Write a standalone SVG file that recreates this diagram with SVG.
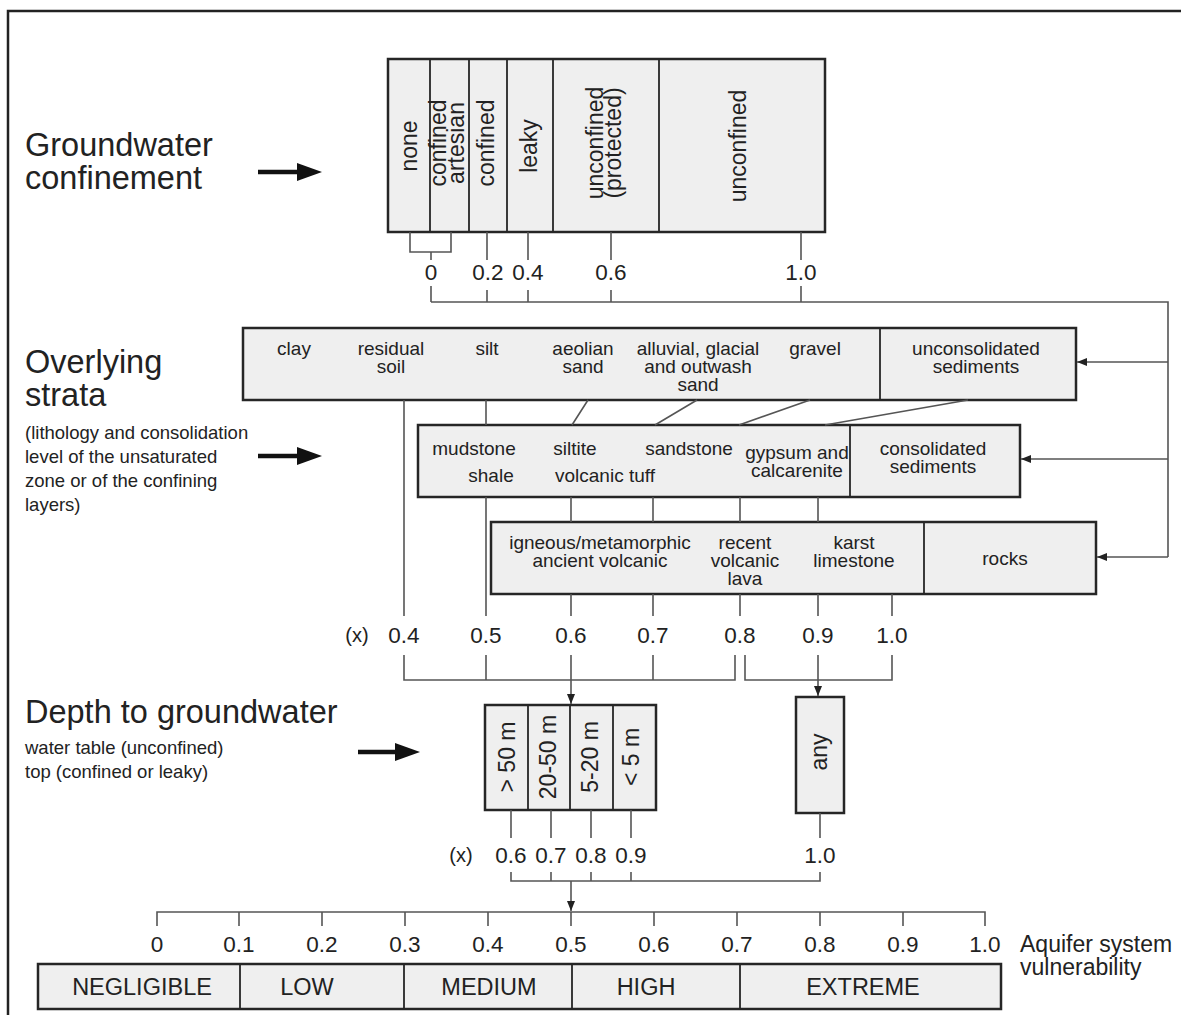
<svg xmlns="http://www.w3.org/2000/svg" width="1181" height="1015" viewBox="0 0 1181 1015">
<defs>
<marker id="ah" viewBox="0 0 10 8" refX="10" refY="4" markerWidth="10" markerHeight="8" markerUnits="userSpaceOnUse" orient="auto">
<path d="M0,0 L10,4 L0,8 Z" fill="#222"/>
</marker>
</defs>
<style>
text{font-family:"Liberation Sans",Arial,sans-serif;fill:#222}
.title{font-size:32.5px}
.sub{font-size:18.5px}
.bx{font-size:19px;text-anchor:middle;dominant-baseline:central}
.rt{font-size:23px;text-anchor:middle;dominant-baseline:middle}
.num{font-size:22.5px;text-anchor:middle;dominant-baseline:central}
.cat{font-size:23.5px;text-anchor:middle;dominant-baseline:central}
.box{fill:#efefef;stroke:#262626;stroke-width:2.5}
.div{stroke:#262626;stroke-width:1.8;fill:none}
.con{stroke:#555;stroke-width:1.6;fill:none}
.big{stroke:#111;stroke-width:4.5}
</style>
<rect width="1181" height="1015" fill="#fff"/>
<path d="M8,1015 V11 H1181" fill="none" stroke="#222" stroke-width="2.5"/>

<g id="labels-left">
<text class="title" x="25" y="156">Groundwater</text>
<text class="title" x="25" y="189">confinement</text>
<text class="title" x="25" y="373">Overlying</text>
<text class="title" x="25" y="406">strata</text>
<text class="sub" x="25" y="439">(lithology and consolidation</text>
<text class="sub" x="25" y="463">level of the unsaturated</text>
<text class="sub" x="25" y="487">zone or of the confining</text>
<text class="sub" x="25" y="511">layers)</text>
<text class="title" x="25" y="723">Depth to groundwater</text>
<text class="sub" x="25" y="754">water table (unconfined)</text>
<text class="sub" x="25" y="778">top (confined or leaky)</text>
</g>

<g id="big-arrows">
<line class="big" x1="258" y1="172" x2="300" y2="172"/>
<polygon points="297,163 322,172 297,181" fill="#111"/>
<line class="big" x1="258" y1="456" x2="300" y2="456"/>
<polygon points="297,447 322,456 297,465" fill="#111"/>
<line class="big" x1="358" y1="752" x2="398" y2="752"/>
<polygon points="395,743 420,752 395,761" fill="#111"/>
</g>

<g id="confinement">
<rect class="box" x="388" y="59" width="437" height="173"/>
<path class="div" d="M430,59V232M469,59V232M507,59V232M553,59V232M659,59V232"/>
<text class="rt" transform="translate(411,146) rotate(-90)">none</text>
<text class="rt" transform="translate(440,143) rotate(-90)">confined</text>
<text class="rt" transform="translate(458,143) rotate(-90)">artesian</text>
<text class="rt" transform="translate(488,143) rotate(-90)">confined</text>
<text class="rt" transform="translate(531,146) rotate(-90)">leaky</text>
<text class="rt" transform="translate(597,143) rotate(-90)">unconfined</text>
<text class="rt" transform="translate(615,143) rotate(-90)">(protected)</text>
<text class="rt" transform="translate(740,146) rotate(-90)">unconfined</text>
</g>

<g id="unconsolidated">
<rect class="box" x="243" y="328" width="833" height="72"/>
<path class="div" d="M880,328V400"/>
<text class="bx" x="294" y="348">clay</text>
<text class="bx" x="391" y="348">residual</text>
<text class="bx" x="391" y="366">soil</text>
<text class="bx" x="487" y="348">silt</text>
<text class="bx" x="583" y="348">aeolian</text>
<text class="bx" x="583" y="366">sand</text>
<text class="bx" x="698" y="348">alluvial, glacial</text>
<text class="bx" x="698" y="366">and outwash</text>
<text class="bx" x="698" y="384">sand</text>
<text class="bx" x="815" y="348">gravel</text>
<text class="bx" x="976" y="348">unconsolidated</text>
<text class="bx" x="976" y="366">sediments</text>
</g>

<g id="consolidated">
<rect class="box" x="418" y="425" width="602" height="72"/>
<path class="div" d="M850,425V497"/>
<text class="bx" x="474" y="448">mudstone</text>
<text class="bx" x="491" y="475">shale</text>
<text class="bx" x="575" y="448">siltite</text>
<text class="bx" x="605" y="475">volcanic tuff</text>
<text class="bx" x="689" y="448">sandstone</text>
<text class="bx" x="797" y="452">gypsum and</text>
<text class="bx" x="797" y="470">calcarenite</text>
<text class="bx" x="933" y="448">consolidated</text>
<text class="bx" x="933" y="466">sediments</text>
</g>

<g id="rocks">
<rect class="box" x="491" y="522" width="605" height="72"/>
<path class="div" d="M924,522V594"/>
<text class="bx" x="600" y="542">igneous/metamorphic</text>
<text class="bx" x="600" y="560">ancient volcanic</text>
<text class="bx" x="745" y="542">recent</text>
<text class="bx" x="745" y="560">volcanic</text>
<text class="bx" x="745" y="578">lava</text>
<text class="bx" x="854" y="542">karst</text>
<text class="bx" x="854" y="560">limestone</text>
<text class="bx" x="1005" y="558">rocks</text>
</g>

<g id="depth">
<rect class="box" x="485" y="705" width="171" height="105"/>
<path class="div" d="M528,705V810M570,705V810M613,705V810"/>
<text class="rt" transform="translate(509,757) rotate(-90)">&gt; 50 m</text>
<text class="rt" transform="translate(550,757) rotate(-90)">20-50 m</text>
<text class="rt" transform="translate(592,757) rotate(-90)">5-20 m</text>
<text class="rt" transform="translate(633,757) rotate(-90)">&lt; 5 m</text>
</g>

<g id="any">
<rect class="box" x="796" y="697" width="48" height="116"/>
<text class="rt" transform="translate(821,752) rotate(-90)">any</text>
</g>

<g id="vulnerability">
<rect class="box" x="38" y="964" width="963" height="45"/>
<path class="div" d="M240,964V1009M404,964V1009M572,964V1009M740,964V1009"/>
<text class="cat" x="142" y="987">NEGLIGIBLE</text>
<text class="cat" x="307" y="987">LOW</text>
<text class="cat" x="489" y="987">MEDIUM</text>
<text class="cat" x="646" y="987">HIGH</text>
<text class="cat" x="863" y="987">EXTREME</text>
<text x="1020" y="952" style="font-size:23px">Aquifer system</text>
<text x="1020" y="975" style="font-size:23px">vulnerability</text>
</g>

<g id="numbers">
<text class="num" x="431" y="272">0</text>
<text class="num" x="488" y="272">0.2</text>
<text class="num" x="528" y="272">0.4</text>
<text class="num" x="611" y="272">0.6</text>
<text class="num" x="801" y="272">1.0</text>
<text class="num" x="357" y="635" style="font-size:20px">(x)</text>
<text class="num" x="404" y="635">0.4</text>
<text class="num" x="486" y="635">0.5</text>
<text class="num" x="571" y="635">0.6</text>
<text class="num" x="653" y="635">0.7</text>
<text class="num" x="740" y="635">0.8</text>
<text class="num" x="818" y="635">0.9</text>
<text class="num" x="892" y="635">1.0</text>
<text class="num" x="461" y="855" style="font-size:20px">(x)</text>
<text class="num" x="511" y="855">0.6</text>
<text class="num" x="551" y="855">0.7</text>
<text class="num" x="591" y="855">0.8</text>
<text class="num" x="631" y="855">0.9</text>
<text class="num" x="820" y="855">1.0</text>
<text class="num" x="157" y="944">0</text>
<text class="num" x="239" y="944">0.1</text>
<text class="num" x="322" y="944">0.2</text>
<text class="num" x="405" y="944">0.3</text>
<text class="num" x="488" y="944">0.4</text>
<text class="num" x="571" y="944">0.5</text>
<text class="num" x="654" y="944">0.6</text>
<text class="num" x="737" y="944">0.7</text>
<text class="num" x="820" y="944">0.8</text>
<text class="num" x="903" y="944">0.9</text>
<text class="num" x="985" y="944">1.0</text>
</g>

<g id="connectors">
<path class="con" d="M410,232V252H451V232M431,252V260M487,232V260M528,232V260M611,232V260M801,232V260"/>
<path class="con" d="M431,286V302M487,290V302M528,290V302M611,290V302M801,286V302M431,302H1168V557"/>
<path class="con" d="M1168,362H1077" marker-end="url(#ah)"/>
<path class="con" d="M1168,459H1021" marker-end="url(#ah)"/>
<path class="con" d="M1168,557H1097" marker-end="url(#ah)"/>
<path class="con" d="M404,400V616M486,400V425M486,497V616M588,400L572,425M697,400L655,425M810,400L739,425M968,400L825,425"/>
<path class="con" d="M571,497V522M653,497V522M740,497V522M818,497V522"/>
<path class="con" d="M571,594V616M653,594V616M740,594V616M818,594V616M892,594V616"/>
<path class="con" d="M404,655V680H735V655M486,655V680M571,655V680M653,655V680"/>
<path class="con" d="M571,680V704" marker-end="url(#ah)"/>
<path class="con" d="M745,655V680H892V655M818,655V680"/>
<path class="con" d="M818,680V696" marker-end="url(#ah)"/>
<path class="con" d="M511,810V838M551,810V838M591,810V838M631,810V838M820,813V838"/>
<path class="con" d="M511,872V881H820V872M551,872V881M591,872V881M631,872V881"/>
<path class="con" d="M571,881V911" marker-end="url(#ah)"/>
<path class="con" d="M157,926V912H985V926M239,912V926M322,912V926M405,912V926M488,912V926M571,912V926M654,912V926M737,912V926M820,912V926M903,912V926"/>
</g>
</svg>
